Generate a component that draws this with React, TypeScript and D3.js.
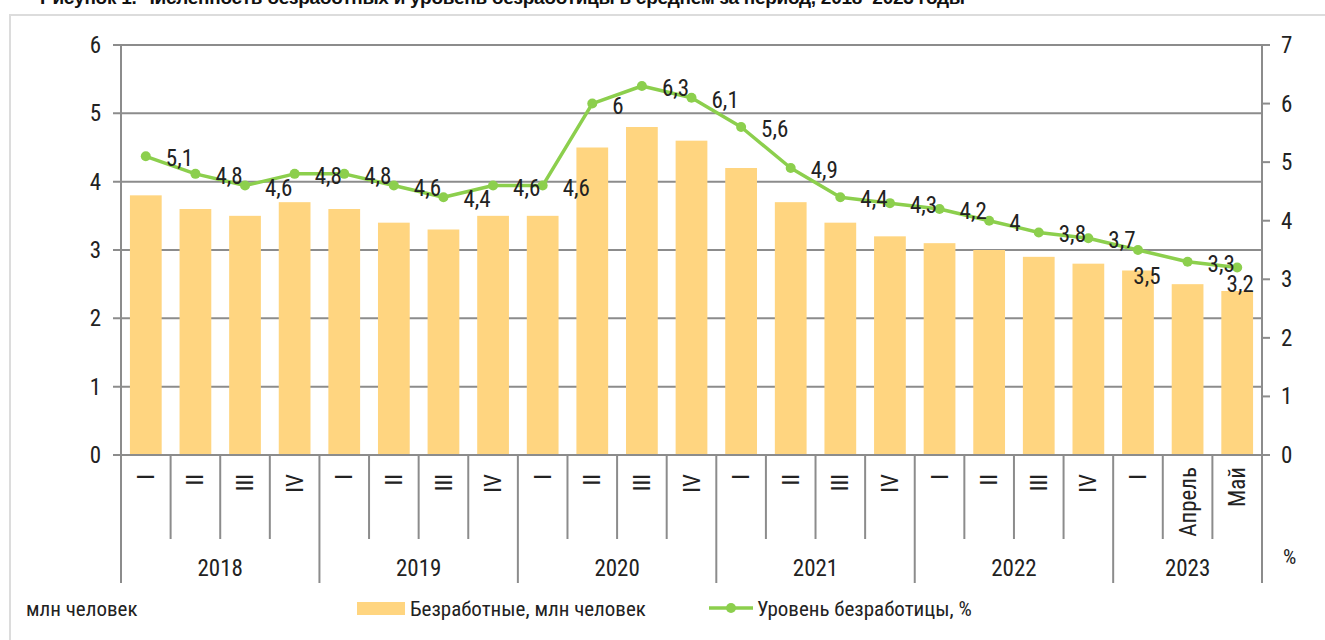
import { useEffect, useRef } from "react";
import * as d3 from "d3";

const periods = [
  "I", "II", "III", "IV",
  "I", "II", "III", "IV",
  "I", "II", "III", "IV",
  "I", "II", "III", "IV",
  "I", "II", "III", "IV",
  "I", "Апрель", "Май",
];
const years = ["2018", "2019", "2020", "2021", "2022", "2023"];
const yearSpans = [4, 4, 4, 4, 4, 3];
const unemployed = [
  3.8, 3.6, 3.5, 3.7, 3.6, 3.4, 3.3, 3.5, 3.5, 4.5, 4.8, 4.6, 4.2, 3.7, 3.4,
  3.2, 3.1, 3.0, 2.9, 2.8, 2.7, 2.5, 2.4,
];
const rate = [
  5.1, 4.8, 4.6, 4.8, 4.8, 4.6, 4.4, 4.6, 4.6, 6.0, 6.3, 6.1, 5.6, 4.9, 4.4,
  4.3, 4.2, 4.0, 3.8, 3.7, 3.5, 3.3, 3.2,
];
const leftTicks = [0, 1, 2, 3, 4, 5, 6];
const rightTicks = [0, 1, 2, 3, 4, 5, 6, 7];

const FONT = "'Liberation Sans Narrow', 'Arial Narrow', 'Roboto Condensed', sans-serif";
const BAR = "#FFD580";
const GREEN = "#8CCF4D";
const GRID = "#8c8c8c";

export default function App() {
  const ref = useRef<SVGSVGElement>(null);

  useEffect(() => {
    const svg = d3.select(ref.current);
    svg.selectAll("*").remove();

    const left = 121;
    const right = 1262;
    const top = 45;
    const bottom = 455;

    const x = d3
      .scaleBand<number>()
      .domain(d3.range(periods.length))
      .range([left, right])
      .paddingInner(0.36)
      .paddingOuter(0.18);
    const step = x.step();
    const cx = (i: number) => (x(i) as number) + x.bandwidth() / 2;
    const yL = d3.scaleLinear().domain([0, 6]).range([bottom, top]);
    const yR = d3.scaleLinear().domain([0, 7]).range([bottom, top]);

    // title, cut off at the top like in the source picture, and frame
    svg
      .append("text")
      .attr("x", 40)
      .attr("y", 4)
      .attr("font-family", "'Liberation Sans', Arial, sans-serif")
      .attr("font-weight", "bold")
      .attr("font-size", 19)
      .attr("textLength", 925)
      .attr("fill", "#111")
      .text("Рисунок 1. Численность безработных и уровень безработицы в среднем за период, 2018–2023 годы");
    svg
      .append("path")
      .attr("d", "M10,640 V15 H1325")
      .attr("fill", "none")
      .attr("stroke", "#dcdcdc")
      .attr("stroke-width", 2);

    // gridlines + left ticks
    svg
      .append("g")
      .selectAll("line")
      .data(leftTicks)
      .join("line")
      .attr("x1", left - 8)
      .attr("x2", right)
      .attr("y1", (d) => yL(d))
      .attr("y2", (d) => yL(d))
      .attr("stroke", GRID)
      .attr("stroke-width", 2);
    svg
      .append("g")
      .selectAll("text")
      .data(leftTicks)
      .join("text")
      .attr("x", 101)
      .attr("y", (d) => yL(d))
      .attr("dy", "0.35em")
      .attr("text-anchor", "end")
      .attr("font-family", FONT)
      .attr("font-size", 23)
      .attr("fill", "#222")
      .text((d) => d);

    // right axis
    svg
      .append("g")
      .selectAll("line")
      .data(rightTicks)
      .join("line")
      .attr("x1", right)
      .attr("x2", right + 8)
      .attr("y1", (d) => yR(d))
      .attr("y2", (d) => yR(d))
      .attr("stroke", GRID)
      .attr("stroke-width", 2);
    svg
      .append("g")
      .selectAll("text")
      .data(rightTicks)
      .join("text")
      .attr("x", 1281)
      .attr("y", (d) => yR(d))
      .attr("dy", "0.35em")
      .attr("font-family", FONT)
      .attr("font-size", 23)
      .attr("fill", "#222")
      .text((d) => d);

    // bars
    svg
      .append("g")
      .selectAll("rect")
      .data(unemployed)
      .join("rect")
      .attr("x", (_, i) => x(i) as number)
      .attr("y", (d) => yL(d))
      .attr("width", x.bandwidth())
      .attr("height", (d) => bottom - yL(d))
      .attr("fill", BAR);

    // axis lines drawn over bars
    svg
      .append("line")
      .attr("x1", left - 8)
      .attr("x2", right)
      .attr("y1", bottom)
      .attr("y2", bottom)
      .attr("stroke", GRID)
      .attr("stroke-width", 2);
    svg
      .append("line")
      .attr("x1", left)
      .attr("x2", left)
      .attr("y1", top)
      .attr("y2", 583)
      .attr("stroke", GRID)
      .attr("stroke-width", 2);
    svg
      .append("line")
      .attr("x1", right)
      .attr("x2", right)
      .attr("y1", top)
      .attr("y2", 583)
      .attr("stroke", GRID)
      .attr("stroke-width", 2);

    // category separators: short within a year, long between years
    const yearStarts = d3.cumsum(yearSpans);
    const seps = d3.range(1, periods.length);
    svg
      .append("g")
      .selectAll("line")
      .data(seps)
      .join("line")
      .attr("x1", (i) => left + i * step)
      .attr("x2", (i) => left + i * step)
      .attr("y1", bottom)
      .attr("y2", (i) => (yearStarts.includes(i) ? 583 : 539))
      .attr("stroke", GRID)
      .attr("stroke-width", 2);

    // period labels (rotated)
    svg
      .append("g")
      .selectAll("text")
      .data(periods)
      .join("text")
      .attr("transform", (_, i) => `translate(${cx(i)},${i > 20 ? 467 : 474}) rotate(-90)`)
      .attr("dy", "0.35em")
      .attr("text-anchor", "end")
      .attr("font-family", FONT)
      .attr("font-size", 23)
      .attr("fill", "#222")
      .text((d) => d);

    // year labels
    svg
      .append("g")
      .selectAll("text")
      .data(years)
      .join("text")
      .attr("x", (_, k) => {
        const s = k === 0 ? 0 : yearStarts[k - 1];
        return left + (s + yearSpans[k] / 2) * step;
      })
      .attr("y", 568)
      .attr("dy", "0.35em")
      .attr("text-anchor", "middle")
      .attr("font-family", FONT)
      .attr("font-size", 23)
      .attr("fill", "#222")
      .text((d) => d);

    // rate line
    const line = d3
      .line<number>()
      .x((_, i) => cx(i))
      .y((d) => yR(d));
    svg
      .append("path")
      .datum(rate)
      .attr("d", line)
      .attr("fill", "none")
      .attr("stroke", GREEN)
      .attr("stroke-width", 3.5)
      .attr("stroke-linejoin", "round");
    svg
      .append("g")
      .selectAll("circle")
      .data(rate)
      .join("circle")
      .attr("cx", (_, i) => cx(i))
      .attr("cy", (d) => yR(d))
      .attr("r", 5)
      .attr("fill", GREEN);

    // most labels sit right of the point, two are pushed below it
    const belowOffset: Record<number, [number, number]> = { 20: [9, 26], 22: [3, 16] };
    svg
      .append("g")
      .selectAll("text")
      .data(rate)
      .join("text")
      .attr("x", (_, i) => cx(i) + (belowOffset[i] ? belowOffset[i][0] : 20))
      .attr("y", (d, i) => yR(d) + (belowOffset[i] ? belowOffset[i][1] : 2))
      .attr("dy", "0.35em")
      .attr("text-anchor", (_, i) => (belowOffset[i] ? "middle" : "start"))
      .attr("font-family", FONT)
      .attr("font-size", 23)
      .attr("fill", "#222")
      .text((d) => String(d).replace(".", ","));

    // legend
    const lg = svg.append("g").attr("font-family", FONT).attr("font-size", 21).attr("fill", "#222");
    lg.append("text").attr("x", 26).attr("y", 609).attr("dy", "0.35em").text("млн человек");
    lg.append("rect").attr("x", 357).attr("y", 602).attr("width", 48).attr("height", 13).attr("fill", BAR);
    lg.append("text").attr("x", 410).attr("y", 609).attr("dy", "0.35em").text("Безработные, млн человек");
    lg.append("line")
      .attr("x1", 709)
      .attr("x2", 753)
      .attr("y1", 608)
      .attr("y2", 608)
      .attr("stroke", GREEN)
      .attr("stroke-width", 3.5);
    lg.append("circle").attr("cx", 731).attr("cy", 608).attr("r", 5).attr("fill", GREEN);
    lg.append("text").attr("x", 757).attr("y", 609).attr("dy", "0.35em").text("Уровень безработицы, %");
    lg.append("text").attr("x", 1283).attr("y", 557).attr("dy", "0.35em").text("%");
  }, []);

  return (
    <svg
      ref={ref}
      width={1325}
      height={640}
      style={{ position: "absolute", left: 0, top: 0, background: "#fff" }}
    />
  );
}
